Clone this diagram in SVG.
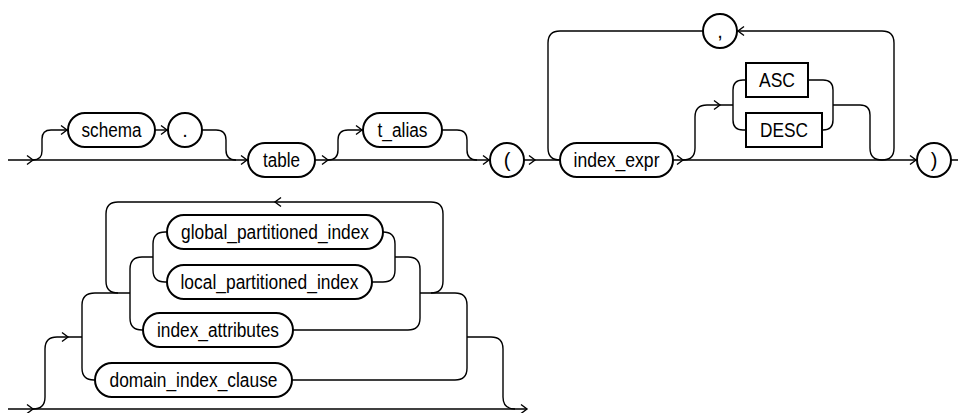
<svg xmlns="http://www.w3.org/2000/svg" width="958" height="413" viewBox="0 0 958 413">
<style>
.n{fill:#fff;stroke:#000;stroke-width:2}
.c{fill:none;stroke:#000;stroke-width:1.4}
.a{fill:none;stroke:#000;stroke-width:1.4}
text{font-family:"Liberation Sans Narrow","Liberation Sans",Arial,sans-serif;font-size:20px;fill:#000;text-anchor:middle}
</style>
<defs>
<path id="ar" class="a" d="M-6,-4.5L0,0L-6,4.5"/>
<path id="al" class="a" d="M6,-4.5L0,0L6,4.5"/>
</defs>
<g id="connectors" class="c">
<path d="M8,160H248M315,160H490M524,160H560M673,160H917M951,160H958"/>
<path d="M33,160Q42,160 42,151V139Q42,130 51,130H68"/>
<path d="M155,130H168"/>
<path d="M202,130H216Q226,130 226,140V150Q226,160 236,160"/>
<path d="M328,160Q338,160 338,150V140Q338,130 348,130H363"/>
<path d="M442,130H457Q467,130 467,140V150Q467,160 477,160"/>
<path d="M560,160Q548,160 548,148V43Q548,31 560,31H703"/>
<path d="M737,31H882Q894,31 894,43V148Q894,160 882,160"/>
<path d="M683,160Q695,160 695,148V117Q695,105 707,105H733"/>
<path d="M746,80H743Q733,80 733,90V120Q733,130 743,130H746"/>
<path d="M808,80H823Q833,80 833,90V120Q833,130 823,130H822"/>
<path d="M833,105H860Q870,105 870,115V148Q870,160 882,160"/>
<path d="M8,409H527"/>
<path d="M33,409Q45,409 45,397V349Q45,337 57,337H82"/>
<path d="M95,293Q82,293 82,305V368Q82,380 94,380H95"/>
<path d="M95,293H130"/>
<path d="M431,293Q443,293 443,281V214Q443,202 431,202H118Q106,202 106,214V281Q106,293 118,293"/>
<path d="M143,330H142Q130,330 130,318V269Q130,257 142,257H153"/>
<path d="M167,232H165Q153,232 153,244V270Q153,282 165,282H167"/>
<path d="M383,232Q395,232 395,244V270Q395,282 383,282H372"/>
<path d="M395,257H408Q420,257 420,269V318Q420,330 408,330H293"/>
<path d="M420,293H455Q467,293 467,305V368Q467,380 455,380H292"/>
<path d="M467,337H491Q503,337 503,349V397Q503,409 515,409"/>
<use href="#ar" x="33" y="160"/>
<use href="#ar" x="67" y="130"/>
<use href="#ar" x="167" y="130"/>
<use href="#ar" x="247" y="160"/>
<use href="#ar" x="328" y="160"/>
<use href="#ar" x="362" y="130"/>
<use href="#ar" x="489" y="160"/>
<use href="#ar" x="535" y="160"/>
<use href="#ar" x="683" y="160"/>
<use href="#ar" x="720" y="105"/>
<use href="#ar" x="916" y="160"/>
<use href="#al" x="738" y="31"/>
<use href="#ar" x="33" y="409"/>
<use href="#ar" x="68" y="337"/>
<use href="#al" x="275" y="202"/>
<use href="#ar" x="527" y="409"/>
</g>
<g id="n-schema"><rect class="n" x="68" y="113" width="87" height="34" rx="17"/><text x="111.5" y="136.5" textLength="60" lengthAdjust="spacingAndGlyphs">schema</text></g>
<g id="n-dot"><rect class="n" x="168" y="113" width="34" height="34" rx="17"/><text x="185" y="136.5">.</text></g>
<g id="n-table"><rect class="n" x="248" y="143" width="67" height="34" rx="17"/><text x="281.5" y="166.5" textLength="37" lengthAdjust="spacingAndGlyphs">table</text></g>
<g id="n-t_alias"><rect class="n" x="363" y="113" width="79" height="34" rx="17"/><text x="402.5" y="136.5" textLength="50" lengthAdjust="spacingAndGlyphs">t_alias</text></g>
<g id="n-lparen"><rect class="n" x="490" y="143" width="34" height="34" rx="17"/><text x="507" y="166.5">(</text></g>
<g id="n-index_expr"><rect class="n" x="560" y="143" width="113" height="34" rx="17"/><text x="616.5" y="166.5" textLength="86" lengthAdjust="spacingAndGlyphs">index_expr</text></g>
<g id="n-comma"><rect class="n" x="703" y="14" width="34" height="34" rx="17"/><text x="720" y="37.5">,</text></g>
<g id="n-ASC"><rect class="n" x="746" y="63" width="62" height="34"/><text x="777" y="86.5" textLength="36" lengthAdjust="spacingAndGlyphs">ASC</text></g>
<g id="n-DESC"><rect class="n" x="746" y="113" width="76" height="34"/><text x="784" y="136.5" textLength="48" lengthAdjust="spacingAndGlyphs">DESC</text></g>
<g id="n-rparen"><rect class="n" x="917" y="143" width="34" height="34" rx="17"/><text x="934" y="166.5">)</text></g>
<g id="n-global"><rect class="n" x="167" y="215" width="216" height="34" rx="17"/><text x="275" y="238.5" textLength="188" lengthAdjust="spacingAndGlyphs">global_partitioned_index</text></g>
<g id="n-local"><rect class="n" x="167" y="265" width="205" height="34" rx="17"/><text x="269.5" y="288.5" textLength="178" lengthAdjust="spacingAndGlyphs">local_partitioned_index</text></g>
<g id="n-index_attributes"><rect class="n" x="143" y="313" width="150" height="34" rx="17"/><text x="218" y="336.5" textLength="122" lengthAdjust="spacingAndGlyphs">index_attributes</text></g>
<g id="n-domain"><rect class="n" x="95" y="363" width="197" height="34" rx="17"/><text x="193.5" y="386.5" textLength="168" lengthAdjust="spacingAndGlyphs">domain_index_clause</text></g>
</svg>
